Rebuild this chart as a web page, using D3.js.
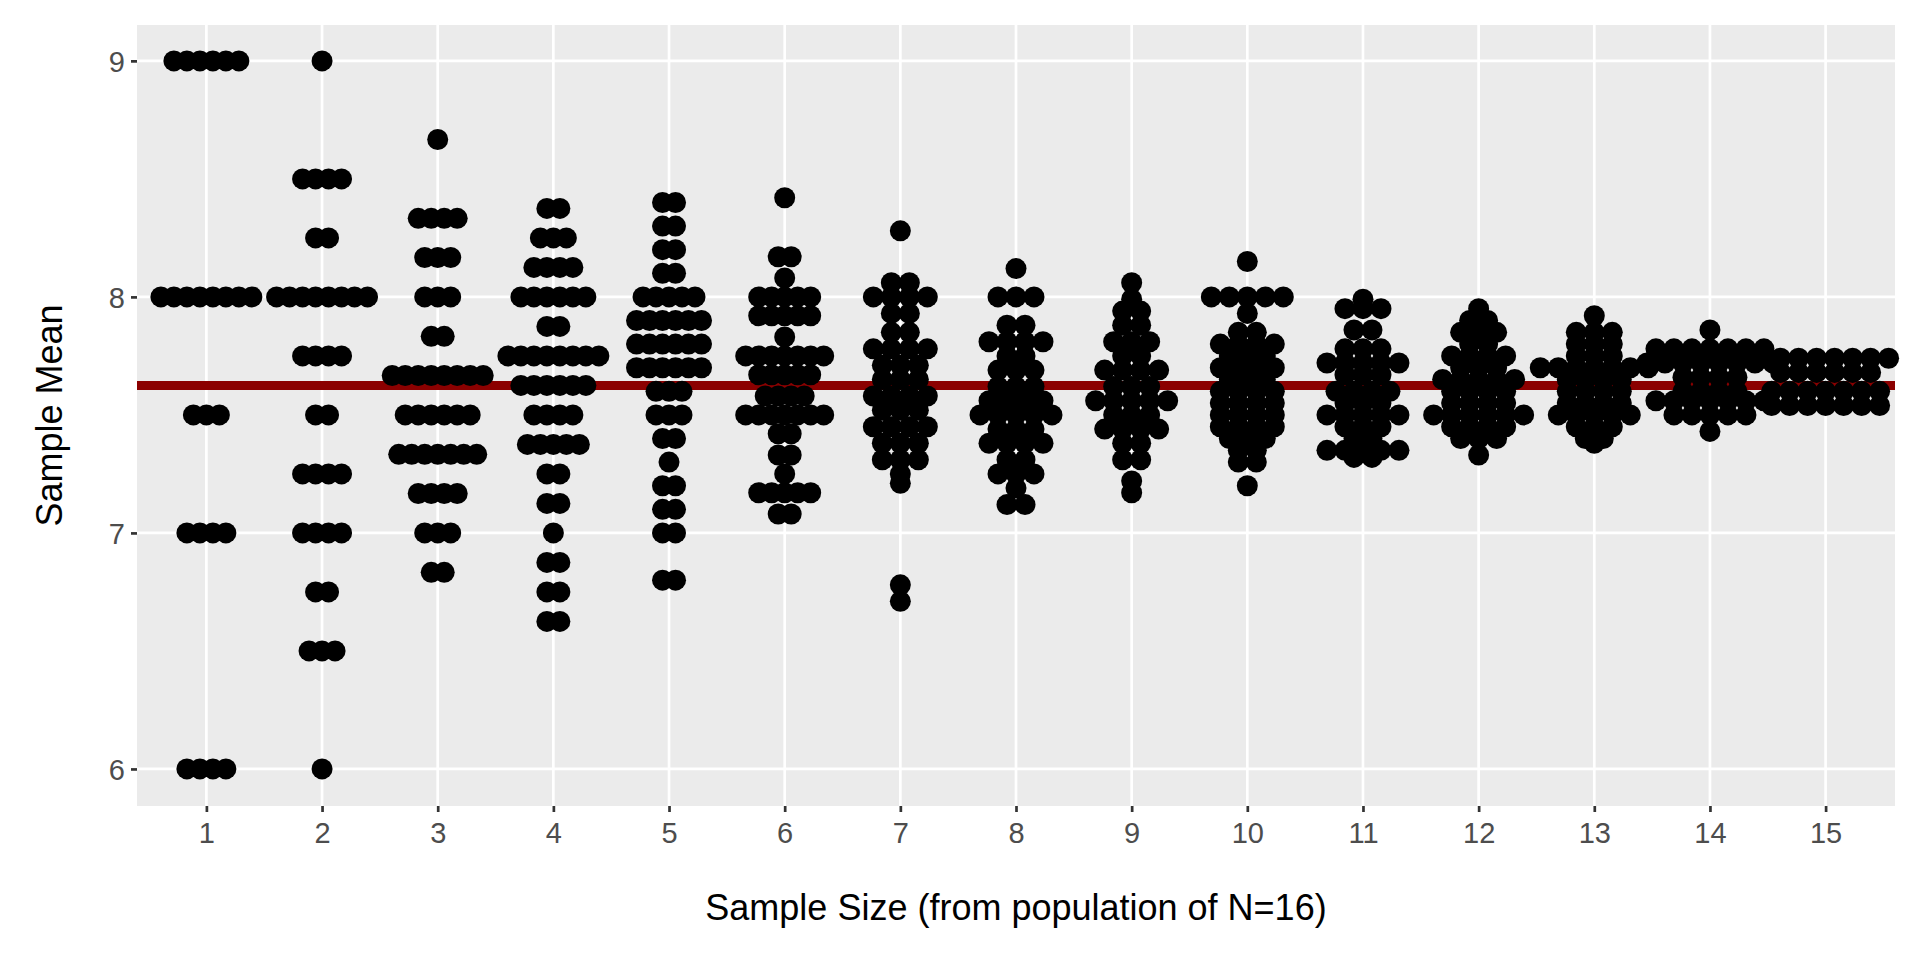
<!DOCTYPE html>
<html><head><meta charset="utf-8">
<script src="https://cdn.jsdelivr.net/npm/d3@7"></script>
<style>body{margin:0;background:#fff}</style></head>
<body><svg id="c" width="1920" height="960"></svg>
<script>
const sampleSizes = [1,2,3,4,5,6,7,8,9,10,11,12,13,14,15];
const yTicks = [6,7,8,9];
const populationMean = 7.625;
// each group: rows of [sample mean, number of dots]
const g1 = [[9,6],[8,8],[7.5,3],[7,4],[6,4]];
const g2 = [[9,1],[8.5,4],[8.25,2],[8,8],[7.75,4],[7.5,2],[7.25,4],[7,4],[6.75,2],[6.5,3],[6,1]];
const g3 = [[8.667,1],[8.333,4],[8.167,3],[8,3],[7.833,2],[7.667,8],[7.5,6],[7.333,7],[7.167,4],[7,3],[6.833,2]];
const g4 = [[8.375,2],[8.25,3],[8.125,4],[8,6],[7.875,2],[7.75,8],[7.625,6],[7.5,4],[7.375,5],[7.25,2],[7.125,2],[7,1],[6.875,2],[6.75,2],[6.625,2]];
const g5 = [[8.4,2],[8.3,2],[8.2,2],[8.1,2],[8,5],[7.9,6],[7.8,6],[7.7,6],[7.6,3],[7.5,3],[7.4,2],[7.3,1],[7.2,2],[7.1,2],[7,2],[6.8,2]];
const g6 = [[8.42,1],[8.17,2],[8.08,1],[8,5],[7.92,5],[7.83,1],[7.75,7],[7.67,5],[7.58,4],[7.5,7],[7.42,2],[7.33,2],[7.25,1],[7.17,5],[7.08,2]];
const g7 = [[8.28,1],[8.06,2],[8,4],[7.93,2],[7.85,2],[7.78,4],[7.71,3],[7.65,3],[7.58,4],[7.52,3],[7.45,4],[7.38,3],[7.31,3],[7.25,1],[7.21,1],[6.78,1],[6.71,1]];
const g8 = [[8.12,1],[8,3],[7.88,2],[7.81,4],[7.75,2],[7.69,3],[7.62,3],[7.56,4],[7.5,5],[7.44,3],[7.38,4],[7.31,2],[7.25,3],[7.19,1],[7.12,2]];
const g9 = [[8.06,1],[7.99,1],[7.94,2],[7.88,2],[7.81,3],[7.75,2],[7.69,4],[7.62,3],[7.56,5],[7.5,3],[7.44,4],[7.38,2],[7.31,2],[7.22,1],[7.17,1]];
const g10 = [[8.15,1],[8,5],[7.93,1],[7.85,2],[7.8,4],[7.75,3],[7.7,4],[7.65,3],[7.6,4],[7.55,4],[7.5,4],[7.45,4],[7.4,3],[7.35,2],[7.3,2],[7.2,1]];
const g11 = [[7.99,1],[7.95,3],[7.86,2],[7.78,3],[7.72,5],[7.67,3],[7.6,4],[7.55,3],[7.5,5],[7.45,3],[7.4,2],[7.35,5],[7.32,2]];
const g12 = [[7.95,1],[7.9,2],[7.85,3],[7.8,2],[7.75,4],[7.7,3],[7.65,5],[7.6,4],[7.55,4],[7.5,6],[7.45,4],[7.4,3],[7.33,1]];
const g13 = [[7.92,1],[7.85,3],[7.8,3],[7.75,3],[7.7,7],[7.65,4],[7.6,4],[7.55,4],[7.5,5],[7.45,3],[7.4,2],[7.38,1]];
const g14 = [[7.86,1],[7.78,7],[7.72,8],[7.66,4],[7.6,4],[7.56,7],[7.5,5],[7.43,1]];
const g15 = [[7.74,8],[7.68,6],[7.6,7],[7.54,7]];
const groups = [g1,g2,g3,g4,g5,g6,g7,g8,g9,g10,g11,g12,g13,g14,g15];

const L=137,R=1895,T=25,B=806;
const svg=d3.select("#c");
const x=d3.scaleLinear().domain([0.4,15.6]).range([L,R]);
const y=d3.scaleLinear().domain([5.843,9.152]).range([B,T]);
svg.append("rect").attr("x",L).attr("y",T).attr("width",R-L).attr("height",B-T).attr("fill","#EBEBEB");
svg.append("g").selectAll("line").data(yTicks).join("line")
 .attr("x1",L).attr("x2",R).attr("y1",d=>y(d)).attr("y2",d=>y(d)).attr("stroke","#fff").attr("stroke-width",2.7);
svg.append("g").selectAll("line").data(sampleSizes).join("line")
 .attr("y1",T).attr("y2",B).attr("x1",d=>x(d)).attr("x2",d=>x(d)).attr("stroke","#fff").attr("stroke-width",2.7);
svg.append("line").attr("x1",L).attr("x2",R).attr("y1",y(populationMean)).attr("y2",y(populationMean))
 .attr("stroke","#8B0000").attr("stroke-width",9);
const r=10.5;
const pts=[];
groups.forEach((g,i)=>{const step=i<6?13:18;g.forEach(([v,n])=>{for(let k=0;k<n;k++)pts.push({g:sampleSizes[i],v,off:(k-(n-1)/2)*step});});});
svg.append("g").selectAll("circle").data(pts).join("circle")
 .attr("cx",d=>x(d.g)+d.off).attr("cy",d=>y(d.v)).attr("r",r).attr("fill","#000");
const xa=svg.append("g").attr("transform",`translate(0,${B})`).call(d3.axisBottom(x).tickValues(sampleSizes).tickSize(6).tickPadding(5).tickFormat(d3.format("d")));
const ya=svg.append("g").attr("transform",`translate(${L},0)`).call(d3.axisLeft(y).tickValues(yTicks).tickSize(6).tickPadding(6).tickFormat(d3.format("d")));
[xa,ya].forEach(a=>{a.select(".domain").remove();a.selectAll("line").attr("stroke","#333").attr("stroke-width",2.7);
 a.selectAll("text").attr("fill","#4D4D4D").style("font-family","Liberation Sans, Arial").style("font-size","29px");});
xa.selectAll("text").attr("dy","0.9em");
ya.selectAll("text").attr("dy","0.35em");
svg.append("text").attr("x",(L+R)/2).attr("y",920).attr("text-anchor","middle").style("font-family","Liberation Sans, Arial").style("font-size","36px").text("Sample Size (from population of N=16)");
svg.append("text").attr("transform",`translate(62,${(T+B)/2}) rotate(-90)`).attr("text-anchor","middle").style("font-family","Liberation Sans, Arial").style("font-size","36px").text("Sample Mean");
</script></body></html>
